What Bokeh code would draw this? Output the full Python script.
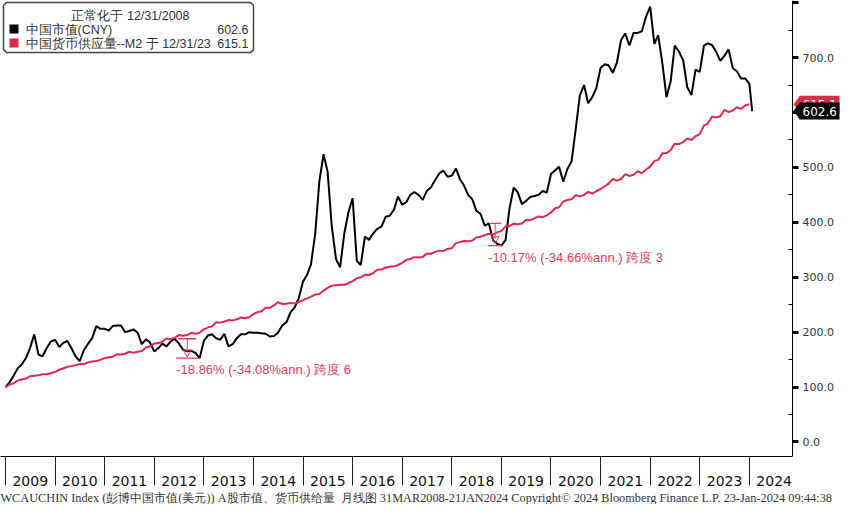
import calendar
from datetime import date

from bokeh.plotting import figure
from bokeh.models import (Range1d, FixedTicker, CustomJSTickFormatter, Label,
                          BoxAnnotation, PolyAnnotation, Title, ColumnDataSource)
from bokeh.core.properties import value
from bokeh.embed import file_html
from bokeh.resources import INLINE

# ---------------- data ----------------
YEARS = list(range(2009, 2025))
LAST_DATE = date(2024, 1, 21)

# China market cap (CNY), normalised 12/31/2008 = 100, month ends Dec-2008 .. Dec-2023, then 21-Jan-2024
MKT_CAP = [100, 109, 120, 134, 141, 153, 171, 196, 159, 156, 171, 183, 186,
           173, 180, 184, 171, 156, 147, 167, 179, 189, 211, 206, 206,
           203, 211, 212, 212, 200, 202, 205, 199, 178, 187, 181, 165,
           171, 179, 174, 183, 188, 179, 168, 165, 166, 162, 152.5, 184,
           194, 196, 189, 186, 197, 174, 178, 189, 196, 196, 200, 199,
           199, 198, 197, 192, 193, 199, 212, 218, 236, 245, 262, 292,
           305, 324, 380, 474, 524, 492, 392, 333, 318, 380, 418, 444,
           330, 322, 374, 368, 380, 388, 392, 410, 412, 423, 447, 432,
           437, 450, 455, 450, 441, 457, 464, 477, 489, 494, 483, 485,
           498, 479, 467, 450, 442, 421, 415, 394, 398, 367, 361, 357.5,
           368, 424, 463, 455, 433, 439, 446, 448, 450, 457, 454, 488,
           495, 501, 474, 497, 511, 569, 631, 650, 617, 628, 645, 681,
           688, 686, 672, 691, 732, 744, 722, 745, 745, 748, 774, 793,
           725, 741, 689, 628, 657, 722, 711, 695, 646, 632, 678, 674,
           722, 726, 723, 711, 694, 703, 715, 681, 675, 662, 662, 652,
           602.6]

# China money supply M2, normalised 12/31/2008 = 100, month ends Dec-2008 .. Dec-2023
M2 = [100.0,
      104.4, 106.6, 111.7, 113.7, 115.4, 119.7, 120.6, 121.3, 123.2, 123.3, 125.1, 127.6,
      131.5, 133.8, 136.8, 138.1, 139.7, 141.8, 141.8, 144.7, 146.5, 147.3, 149.5, 152.7,
      154.4, 155.0, 159.5, 159.4, 160.6, 164.3, 162.6, 164.3, 165.7, 171.9, 173.8, 179.2,
      180.0, 182.6, 188.5, 187.2, 189.6, 194.7, 193.4, 194.6, 198.6, 197.1, 198.8, 205.0,
      208.8, 210.1, 218.0, 217.3, 219.3, 221.9, 221.4, 223.3, 226.7, 225.2, 227.1, 232.8,
      236.4, 238.0, 244.3, 244.3, 248.8, 254.5, 251.3, 251.9, 253.0, 252.3, 254.5, 258.5,
      261.5, 264.6, 268.4, 269.5, 275.4, 280.6, 284.7, 285.6, 286.2, 286.4, 289.1, 293.0,
      298.0, 299.8, 304.3, 304.1, 307.6, 313.7, 313.9, 317.9, 319.1, 319.8, 322.1, 326.2,
      331.6, 333.1, 336.6, 335.9, 337.0, 343.3, 342.8, 346.2, 348.4, 347.9, 351.4, 352.9,
      362.1, 363.9, 366.1, 365.7, 366.8, 372.5, 373.8, 376.4, 379.1, 377.9, 381.6, 384.4,
      392.7, 393.0, 397.6, 396.5, 397.8, 404.3, 403.9, 407.3, 410.8, 409.4, 412.8, 418.0,
      425.7, 427.4, 437.9, 440.6, 442.0, 449.3, 447.3, 449.7, 455.4, 452.4, 457.1, 460.2,
      465.7, 470.5, 479.1, 476.0, 478.9, 487.8, 484.5, 486.6, 493.0, 489.4, 495.8, 501.5,
      511.6, 513.8, 525.6, 526.0, 531.7, 543.3, 542.5, 546.1, 552.7, 549.8, 557.0, 560.7,
      576.2, 579.8, 592.3, 591.0, 593.5, 604.6, 600.6, 603.7, 609.6, 606.5, 612.9, 615.1]

LEGEND_TITLE = "正常化于 12/31/2008"
SERIES_NAMES = ["中国市值(CNY)", "中国货币供应量--M2 于 12/31/23"]

# drawdown annotations (month index of peak / trough in MKT_CAP)
DD_PEAK = [41, 117]
DD_TROUGH = [47, 120]
DD_TEXT = ["-18.86% (-34.08%ann.) 跨度 6", "-10.17% (-34.66%ann.) 跨度 3"]

FOOTER = ("WCAUCHIN Index (彭博中国市值(美元)) A股市值、货币供给量\u00a0\u00a0月线图 "
          "31MAR2008-21JAN2024 Copyright\u00a9 2024 Bloomberg Finance L.P. 23-Jan-2024 09:44:38")

# ---------------- helpers ----------------
def frac_year(d):
    ndays = 366 if calendar.isleap(d.year) else 365
    return d.year + d.timetuple().tm_yday / ndays

month_ends = []
for k in range(len(M2)):
    y = 2008 + (11 + k) // 12
    m = (11 + k) % 12 + 1
    month_ends.append(date(y, m, calendar.monthrange(y, m)[1]))
x_m2 = [frac_year(d) for d in month_ends]
x_cap = x_m2 + [frac_year(LAST_DATE)]

BLACK = "#000000"
RED = "#dc2a4c"
DD_RED = "#d6405a"
TXT = "#333333"

W, H = 844, 504
X0, AXIS_X = 2008.90, 2024.87       # visible date span; the value axis sits at AXIS_X
FW = 792                            # pixel position of the value axis inside the frame
X1 = X0 + (AXIS_X - X0) * W / FW    # frame also covers the axis-label strip
Y0, Y1 = -26.5, 804.0
FRAME_H = 455.0
UPP = (Y1 - Y0) / FRAME_H          # data units per pixel
def ypx(px):
    return Y1 - px * UPP

# ---------------- figure ----------------
p = figure(width=W, height=H, output_backend="svg", toolbar_location=None,
           x_range=Range1d(X0, X1), y_range=Range1d(Y0, Y1),
           y_axis_location="right",
           min_border_left=0, min_border_top=0, min_border_right=0, min_border_bottom=0)
p.outline_line_color = None
p.xgrid.visible = False
p.ygrid.visible = False
p.background_fill_color = "white"
p.border_fill_color = "white"

xa = p.xaxis[0]
xa.ticker = FixedTicker(ticks=[yr + 0.5 for yr in YEARS], minor_ticks=YEARS)
xa.formatter = CustomJSTickFormatter(code="return String(Math.floor(tick));")
xa.bounds = (X0, AXIS_X)
xa.major_tick_line_color = None
xa.major_tick_out = 0
xa.major_tick_in = 0
xa.minor_tick_line_color = "#222222"
xa.minor_tick_out = 29
xa.minor_tick_in = 0
xa.axis_line_color = BLACK
xa.major_label_standoff = -10
xa.major_label_text_font = "DejaVu Sans"
xa.major_label_text_font_size = "14px"
xa.major_label_text_color = "#111111"

ya = p.yaxis[0]
ya.fixed_location = AXIS_X
ya.ticker = FixedTicker(ticks=list(range(0, 801, 100)), minor_ticks=list(range(50, 801, 100)))
ya.formatter = CustomJSTickFormatter(code="return tick >= 800 ? '' : tick.toFixed(1);")
ya.axis_line_color = BLACK
ya.major_tick_line_color = BLACK
ya.major_tick_line_width = 3
ya.major_tick_out = 6
ya.major_tick_in = 0
ya.minor_tick_line_color = BLACK
ya.minor_tick_in = 4
ya.minor_tick_out = 0
ya.major_label_standoff = 4
ya.major_label_text_font = "DejaVu Sans"
ya.major_label_text_font_size = "11px"
ya.major_label_text_color = TXT

# ---------------- series ----------------
p.line(x=x_cap, y=MKT_CAP, line_color=BLACK, line_width=2)
p.line(x=x_m2, y=M2, line_color=RED, line_width=2)

# ---------------- drawdown markers ----------------
dd = dict(xm=[], yp=[], yt=[], ytri=[], text=DD_TEXT, top_w=[18, 12], bot_w=[22, 14])
for pk, tr in zip(DD_PEAK, DD_TROUGH):
    dd["xm"].append((x_cap[pk] + x_cap[tr]) / 2)
    dd["yp"].append(MKT_CAP[pk])
    dd["yt"].append(MKT_CAP[tr])
    dd["ytri"].append(MKT_CAP[tr] + 0.3 * (MKT_CAP[pk] - MKT_CAP[tr]))
dd["xoff"] = [-w / 2 for w in dd["bot_w"]]
src = ColumnDataSource(dd)
p.segment(x0="xm", y0="yp", x1="xm", y1="ytri", source=src, line_color=DD_RED, line_width=1)
p.scatter(x="xm", y="yp", size="top_w", marker="dash", source=src, line_color=DD_RED, line_width=1.3)
p.scatter(x="xm", y="yt", size="bot_w", marker="dash", source=src, line_color=DD_RED, line_width=1.3)
p.scatter(x="xm", y="ytri", size=8, marker="inverted_triangle", source=src,
          line_color=DD_RED, fill_color=None, line_width=1)
p.text(x="xm", y="yt", text="text", x_offset="xoff", y_offset=4, source=src,
       text_font=value("Liberation Sans"), text_font_size="13px", text_color=DD_RED,
       text_baseline="top", text_align="left")

# ---------------- legend box ----------------
bl, br, bt, bb, c = 3, 253, 2, 52, 3
p.add_layout(PolyAnnotation(
    xs=[bl + c, br - c, br, br, br - c, bl + c, bl, bl],
    ys=[ypx(bt), ypx(bt), ypx(bt + c), ypx(bb - c), ypx(bb), ypx(bb), ypx(bb - c), ypx(bt + c)],
    xs_units="screen", ys_units="data", fill_color="white", fill_alpha=1,
    line_color="#444444", line_alpha=1, line_width=1.5))
for ytop, col in ((24, BLACK), (38, RED)):
    p.add_layout(BoxAnnotation(left=9, right=18, left_units="screen", right_units="screen",
                               top=ypx(ytop), bottom=ypx(ytop + 9), fill_color=col, fill_alpha=1,
                               line_color=None))

def leg_label(x, ypix, text, align="left"):
    p.add_layout(Label(x=x, y=ypx(ypix), x_units="screen", y_units="data", text=text,
                       text_align=align, text_baseline="middle", text_font="Liberation Sans",
                       text_font_size="12.5px", text_color=TXT))

leg_label(130, 15, LEGEND_TITLE, "center")
leg_label(25, 29, SERIES_NAMES[0])
leg_label(248, 29, f"{MKT_CAP[-1]:.1f}", "right")
leg_label(25, 43, SERIES_NAMES[1])
leg_label(248, 43, f"{M2[-1]:.1f}", "right")

# ---------------- last value tags on the value axis ----------------
HALF = 8.5 * UPP
for val, col in ((M2[-1], RED), (MKT_CAP[-1], BLACK)):
    p.add_layout(BoxAnnotation(left=FW + 7, right=FW + 47, left_units="screen", right_units="screen",
                               top=val + HALF, bottom=val - HALF, fill_color=col, fill_alpha=1,
                               line_color=None, line_alpha=0))
    p.add_layout(PolyAnnotation(xs=[FW + 1, FW + 7.5, FW + 7.5], ys=[val, val + HALF, val - HALF],
                                xs_units="screen", ys_units="data", fill_color=col, fill_alpha=1,
                                line_color=None, line_alpha=0))
    p.add_layout(Label(x=FW + 10, y=val, x_units="screen", y_units="data", text=f"{val:.1f}",
                       text_align="left", text_baseline="middle", text_font="DejaVu Sans",
                       text_font_size="12px", text_color="white"))

# ---------------- footer ----------------
p.add_layout(Title(text=FOOTER, align="left", text_font="Liberation Serif", text_font_size="12.3px",
                   text_font_style="normal", text_color=TXT, standoff=0), "below")

open("out.html", "w").write(file_html(p, INLINE))
